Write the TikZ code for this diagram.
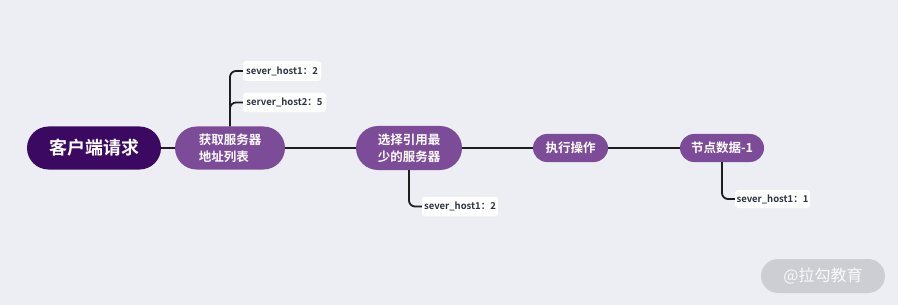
\documentclass[tikz,border=0pt]{standalone}
\usepackage{fontspec}
\setmainfont{Noto Sans CJK SC}
\newfontfamily\cjkb{Noto Sans CJK SC Bold}
\definecolor{bgc}{HTML}{EDEEF3}
\definecolor{darkp}{HTML}{3B0862}
\definecolor{midp}{HTML}{7D4C98}
\definecolor{lnc}{HTML}{1E1E1E}
\definecolor{lbltxt}{HTML}{2E3440}
\definecolor{wmbg}{HTML}{CDCED3}
\begin{document}
\begin{tikzpicture}[x=1pt,y=-1pt,
  root/.style={fill=darkp,rounded corners=21.5pt,minimum width=134pt,minimum height=43pt,text=white,font=\cjkb\fontsize{18}{20}\selectfont,inner sep=0pt},
  topic/.style={fill=midp,text=white,font=\cjkb\fontsize{12.5}{17}\selectfont,inner sep=0pt,align=left},
  lbl/.style={fill=white,rounded corners=3pt,text=lbltxt,font=\cjkb\fontsize{9.5}{11}\selectfont,inner sep=0pt,minimum height=19.5pt},
  conn/.style={draw=lnc,line width=1.8pt,rounded corners=6pt},
  mainline/.style={draw=lnc,line width=1.8pt}]
\fill[bgc] (0,0) rectangle (898,305);
\useasboundingbox (0,0) rectangle (898,305);
% main nodes
\node[root] (n1) at (94,148) {客户端请求};
\node[topic,rounded corners=21.5pt,minimum width=110pt,minimum height=43pt] (n2) at (230,148) {获取服务器\\地址列表};
\node[topic,rounded corners=22pt,minimum width=106pt,minimum height=44pt] (n3) at (409,148) {选择引用最\\少的服务器};
\node[topic,rounded corners=14pt,minimum width=75pt,minimum height=28pt] (n4) at (570.5,148) {执行操作};
\node[topic,rounded corners=14pt,minimum width=84pt,minimum height=28pt] (n5) at (722,148) {节点数据-1};
% labels
\node[lbl,minimum width=78pt,minimum height=20pt] (l1) at (282,71) {sever\_host1：2};
\node[lbl,minimum width=83pt] (l2) at (284.5,102.5) {server\_host2：5};
\node[lbl,minimum width=76pt] (l3) at (460,206.5) {sever\_host1：2};
\node[lbl,minimum width=75pt,minimum height=18pt] (l4) at (772.5,199) {sever\_host1：1};
\coordinate (b2) at (230,110);
% connectors
\draw[mainline] (n1.east) -- (n2.west);
\draw[mainline] (n2.east) -- (n3.west);
\draw[mainline] (n3.east) -- (n4.west);
\draw[mainline] (n4.east) -- (n5.west);
\draw[conn] (n2.north) |- (l1.west);
\draw[conn] (b2) |- (l2.west);
\draw[conn] (n3.south) |- (l3.west);
\draw[conn] (n5.south) |- (l4.west);
% watermark
\node[fill=wmbg,rounded corners=17pt,minimum width=124pt,minimum height=34pt,inner sep=0pt,text=white!95!gray,font=\fontsize{16}{18}\selectfont] (wm) at (823,276) {@拉勾教育};
\end{tikzpicture}
\end{document}
